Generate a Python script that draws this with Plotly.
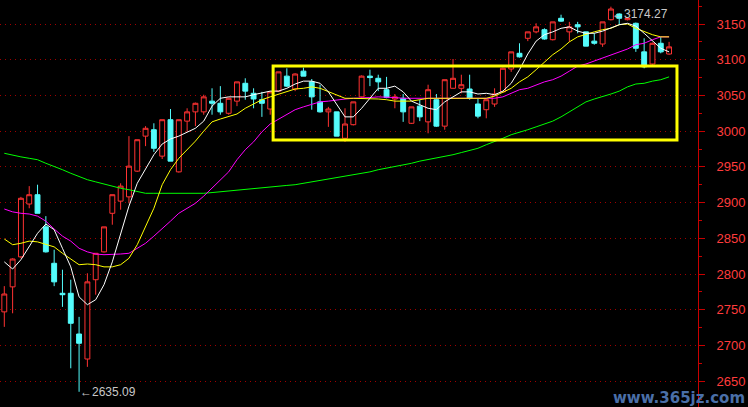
import plotly.graph_objects as go

# ---------------- data ----------------
idx = list(range(1, 82))

opens = [2747, 2782, 2824, 2898, 2911, 2866, 2815, 2773, 2773, 2716,
         2681, 2792, 2831, 2885, 2902, 2908, 2944, 2993, 3002, 2965,
         3016, 2943, 3014, 3027, 3027, 3042, 3039, 3025, 3042, 3067,
         3053, 3044, 3031, 3056, 3077, 3059, 3084, 3069, 3041, 3027,
         3027, 2990, 3009, 3048, 3077, 3074, 3058, 3045, 3046, 3011,
         3035, 3013, 3044, 3007, 3060, 3060, 3059, 3038, 3030, 3038,
         3055, 3087, 3109, 3130, 3139, 3142, 3128, 3158, 3139, 3149,
         3139, 3126, 3122, 3156, 3164, 3156, 3151, 3111, 3094, 3123,
         3108]
highs = [2783, 2822, 2908, 2923, 2925, 2881, 2834, 2806, 2792, 2740,
         2801, 2829, 2866, 2911, 2927, 2993, 2988, 3007, 3011, 3016,
         3031, 3016, 3032, 3040, 3051, 3060, 3063, 3047, 3069, 3074,
         3060, 3055, 3055, 3083, 3088, 3081, 3089, 3073, 3065, 3034,
         3027, 3032, 3041, 3078, 3086, 3079, 3076, 3052, 3052, 3034,
         3044, 3065, 3052, 3072, 3101, 3079, 3079, 3045, 3044, 3060,
         3089, 3111, 3123, 3139, 3151, 3144, 3153, 3163, 3153, 3153,
         3139, 3137, 3153, 3174.27, 3165, 3159, 3152, 3130, 3124, 3132,
         3125]
lows = [2726, 2745, 2822, 2892, 2885, 2830, 2783, 2754, 2668, 2635.09,
        2670, 2771, 2830, 2869, 2890, 2899, 2943, 2979, 2971, 2961,
        2958, 2942, 2999, 3007, 3023, 3023, 3023, 3023, 3035, 3044,
        3032, 3020, 3023, 3055, 3062, 3056, 3077, 3030, 3026, 3006,
        2993, 2985, 3008, 3047, 3063, 3056, 3046, 3032, 3013, 3010,
        3014, 2997, 3006, 3002, 3060, 3053, 3044, 3018, 3018, 3034,
        3054, 3083, 3103, 3126, 3137, 3128, 3127, 3153, 3125, 3137,
        3119, 3121, 3118, 3155, 3149, 3155, 3111, 3088, 3093, 3109,
        3107]
closes = [2772, 2821, 2906, 2911, 2885, 2831, 2789, 2771, 2731, 2703,
          2789, 2829, 2866, 2911, 2923, 2951, 2988, 3004, 2976, 3016,
          2958, 3016, 3027, 3039, 3048, 3039, 3027, 3046, 3069, 3056,
          3045, 3039, 3055, 3083, 3063, 3080, 3077, 3048, 3027, 3031,
          2993, 3010, 3041, 3077, 3075, 3069, 3047, 3048, 3027, 3034,
          3020, 3058, 3007, 3072, 3074, 3065, 3046, 3021, 3044, 3052,
          3088, 3111, 3104, 3139, 3146, 3129, 3153, 3154, 3146, 3146,
          3119, 3123, 3153, 3171, 3158, 3158, 3116, 3090, 3123, 3111,
          3118]

ma_white = [2817, 2807, 2820, 2838, 2857, 2870, 2862, 2836, 2810, 2768,
            2757, 2764, 2785, 2817, 2855, 2895, 2927, 2946, 2967, 2982,
            2989, 2993, 2999, 3004, 3014, 3035, 3046, 3048, 3048, 3048,
            3051, 3053, 3056, 3056, 3060, 3066, 3070, 3070, 3067, 3055,
            3037, 3020, 3020, 3032, 3046, 3060, 3060, 3063, 3055, 3042,
            3037, 3032, 3030, 3041, 3048, 3055, 3055, 3052, 3053, 3051,
            3056, 3067, 3086, 3108, 3126, 3135, 3139, 3144, 3146, 3140,
            3137, 3137, 3140, 3144, 3149, 3151, 3147, 3137, 3126, 3116,
            3111]
ma_yellow = [2849, 2841, 2843, 2846, 2845, 2842, 2838, 2829, 2821, 2813,
             2814, 2813, 2810, 2810, 2813, 2822, 2841, 2867, 2892, 2925,
             2946, 2962, 2974, 2986, 3000, 3013, 3017, 3020, 3024, 3032,
             3038, 3044, 3048, 3052, 3055, 3059, 3060, 3062, 3060, 3055,
             3051, 3046, 3046, 3046, 3046, 3045, 3044, 3042, 3042, 3042,
             3044, 3046, 3046, 3046, 3045, 3045, 3045, 3046, 3046, 3049,
             3055, 3060, 3069, 3076, 3086, 3097, 3107, 3115, 3125, 3132,
             3136, 3139, 3142, 3144, 3149, 3150, 3144, 3139, 3135, 3132,
             3132]
ma_magenta = [2891, 2887, 2885, 2884, 2881, 2874, 2863, 2853, 2846, 2836,
              2831, 2828, 2827, 2827, 2828, 2829, 2836, 2843, 2853, 2863,
              2874, 2885, 2892, 2899, 2909, 2920, 2932, 2943, 2960, 2974,
              2985, 2999, 3010, 3017, 3024, 3030, 3034, 3038, 3041, 3042,
              3044, 3045, 3046, 3046, 3047, 3048, 3048, 3047, 3046, 3046,
              3046, 3046, 3046, 3046, 3045, 3045, 3045, 3045, 3045, 3046,
              3048, 3053, 3058, 3060, 3065, 3069, 3072, 3077, 3084, 3091,
              3094, 3098, 3102, 3107, 3111, 3115, 3121, 3123, 3128, 3132,
              3132]
ma_green = [2969, 2966, 2964, 2962, 2960, 2955, 2951, 2946, 2941, 2936,
            2932, 2929, 2926, 2922, 2920, 2918, 2915, 2913, 2913, 2913,
            2912, 2912, 2912, 2913, 2913, 2914, 2915, 2916, 2918, 2918,
            2920, 2920, 2922, 2923, 2924, 2925, 2927, 2929, 2930, 2932,
            2934, 2937, 2938, 2941, 2943, 2946, 2948, 2951, 2953, 2955,
            2958, 2960, 2962, 2965, 2967, 2970, 2973, 2976, 2981, 2985,
            2990, 2995, 2998, 3002, 3006, 3010, 3014, 3020, 3027, 3034,
            3041, 3045, 3048, 3052, 3056, 3062, 3066, 3067, 3070, 3072,
            3076]

y_ticks = [2650, 2700, 2750, 2800, 2850, 2900, 2950, 3000, 3050, 3100, 3150]
low_label = "←2635.09"
high_label = "←3174.27"
low_idx, low_val = 10, 2635.09
high_idx, high_val = 74, 3174.27
watermark = "www.365jz.com"

# ---------------- figure ----------------
RED = "#FF3232"
CYAN = "#54FCFC"

fig = go.Figure()
fig.add_trace(go.Candlestick(
    x=idx, open=opens, high=highs, low=lows, close=closes,
    increasing=dict(line=dict(color=RED, width=1), fillcolor="black"),
    decreasing=dict(line=dict(color=CYAN, width=1), fillcolor=CYAN),
    whiskerwidth=0, hoverinfo="skip", showlegend=False,
))
for vals, col in [(ma_green, "#00FF00"), (ma_magenta, "#FF00FF"),
                  (ma_yellow, "#FFFF00"), (ma_white, "#FFFFFF")]:
    fig.add_trace(go.Scatter(x=idx, y=vals, mode="lines",
                             line=dict(color=col, width=1),
                             hoverinfo="skip", showlegend=False))

fig.add_shape(type="rect", xref="x", yref="y",
              x0=33.35, x1=81.95, y0=2987.6, y1=3091.2,
              line=dict(color="#FFFF00", width=3), layer="above")

fig.add_annotation(x=low_idx, y=low_val, text=low_label, showarrow=False,
                   xanchor="left", yanchor="middle", xshift=-1,
                   font=dict(color="#C8C8C8", size=12, family="Liberation Sans"))
fig.add_annotation(x=high_idx, y=high_val, text=high_label, showarrow=False,
                   xanchor="left", yanchor="top", xshift=-1, yshift=2,
                   font=dict(color="#C8C8C8", size=12, family="Liberation Sans"))
fig.add_annotation(xref="paper", yref="paper", x=1.07, y=0.0, yshift=-2,
                   text="<b>" + watermark + "</b>", showarrow=False,
                   xanchor="right", yanchor="bottom",
                   font=dict(color="#4A6FA8", size=15, family="DejaVu Sans"))

fig.update_layout(
    width=748, height=407,
    margin=dict(l=0, r=50, t=0, b=0, pad=0, autoexpand=False),
    paper_bgcolor="black", plot_bgcolor="black",
    showlegend=False, boxgap=0.16,
    xaxis=dict(range=[0.483, 84.48], visible=False,
               rangeslider=dict(visible=False), fixedrange=True),
    yaxis=dict(side="right", range=[2613.8, 3183.6], automargin=False,
               tickvals=y_ticks, showline=True, linecolor="#C80000", linewidth=1,
               ticks="outside", ticklen=6, tickcolor="#C80000",
               tickfont=dict(color="#FF3C3C", size=13, family="Liberation Sans"),
               ticklabelstandoff=9,
               showgrid=True, gridcolor="#A00000", gridwidth=1, griddash="1px,4px",
               zeroline=False,
               minor=dict(dtick=25, ticks="outside", ticklen=3,
                          tickcolor="#C80000", showgrid=False)),
)

fig.write_html(
    "out.html",
    config={"displayModeBar": False, "staticPlot": True},
    post_script="document.body.style.margin='0';document.body.style.background='black';",
)
